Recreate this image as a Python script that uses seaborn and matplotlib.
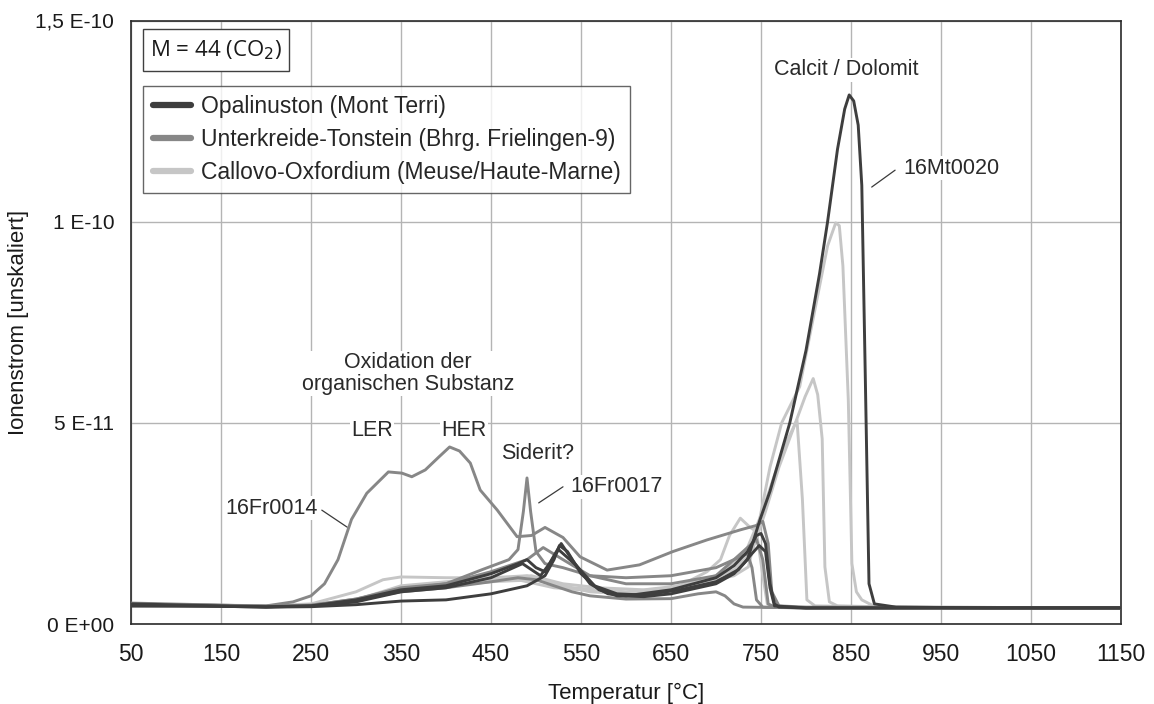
import numpy as np
import pandas as pd
import matplotlib
matplotlib.use("Agg")
import matplotlib.pyplot as plt
import seaborn as sns
from matplotlib.lines import Line2D
from matplotlib.patches import Rectangle

# ---------------- data (ion current in units of 1E-11) ----------------
group_names = ["Opalinuston (Mont Terri)",
               "Unterkreide-Tonstein (Bhrg. Frielingen-9)",
               "Callovo-Oxfordium (Meuse/Haute-Marne)"]

# Opalinuston (Mont Terri)
opa1_T = [50, 100, 150, 200, 250, 300, 350, 400, 450, 490, 510, 520, 526, 535, 550, 570, 590, 620, 650, 680,
          700, 720, 735, 749, 760, 771, 782, 800, 815, 824, 835, 843, 848, 853, 858, 862, 866, 870, 876, 900, 1000, 1150]
opa1_I = [0.45, 0.45, 0.44, 0.42, 0.43, 0.48, 0.57, 0.6, 0.75, 0.95, 1.2, 1.6, 1.95, 1.8, 1.25, 0.85, 0.7, 0.68, 0.75, 0.9,
          1.0, 1.25, 1.6, 2.6, 3.3, 4.15, 5.0, 6.8, 8.7, 10.0, 11.8, 12.8, 13.15, 13.0, 12.4, 10.9, 6.0, 1.0, 0.5, 0.42, 0.40, 0.40]
opa2_T = [50, 150, 200, 250, 300, 350, 400, 450, 480, 490, 500, 510, 520, 528, 540, 560, 580, 600, 650, 700,
          720, 735, 745, 750, 755, 760, 765, 770, 800, 1150]
opa2_I = [0.5, 0.45, 0.43, 0.45, 0.6, 0.85, 0.95, 1.25, 1.5, 1.6, 1.4, 1.3, 1.7, 2.0, 1.6, 1.0, 0.75, 0.7, 0.85, 1.15,
          1.45, 1.8, 2.2, 2.25, 2.0, 1.0, 0.5, 0.42, 0.4, 0.4]
opa3_T = [50, 150, 200, 250, 300, 350, 400, 450, 475, 485, 495, 505, 515, 525, 545, 565, 590, 620, 660, 700,
          725, 740, 748, 755, 760, 765, 800, 1150]
opa3_I = [0.45, 0.44, 0.42, 0.45, 0.55, 0.8, 0.9, 1.15, 1.4, 1.5, 1.35, 1.2, 1.5, 1.85, 1.45, 0.95, 0.75, 0.72, 0.85, 1.05,
          1.35, 1.75, 1.95, 1.8, 0.9, 0.45, 0.4, 0.4]

# Unterkreide-Tonstein (Bhrg. Frielingen-9)
uk1_T = [50, 100, 150, 200, 230, 250, 265, 280, 295, 312, 336, 351, 362, 377, 392, 404, 415, 427, 438, 457,
         479, 495, 510, 530, 549, 579, 615, 652, 690, 727, 745, 752, 758, 762, 770, 800, 1150]
uk1_I = [0.5, 0.48, 0.46, 0.45, 0.55, 0.7, 1.0, 1.6, 2.6, 3.25, 3.78, 3.75, 3.66, 3.83, 4.15, 4.4, 4.3, 4.0, 3.33, 2.83,
         2.17, 2.2, 2.4, 2.15, 1.67, 1.34, 1.47, 1.8, 2.09, 2.34, 2.45, 2.55, 2.0, 0.8, 0.45, 0.42, 0.4]
uk2_T = [50, 150, 200, 250, 300, 350, 400, 440, 470, 480, 486, 490, 494, 500, 510, 530, 560, 600, 650, 700,
         720, 735, 740, 745, 752, 800, 1150]
uk2_I = [0.5, 0.46, 0.44, 0.47, 0.62, 0.85, 1.0, 1.35, 1.6, 1.85, 2.8, 3.63, 2.8, 1.8, 1.5, 1.4, 1.2, 1.15, 1.2, 1.4,
         1.6, 1.75, 1.4, 0.6, 0.42, 0.4, 0.4]
uk3_T = [50, 150, 200, 250, 300, 350, 400, 450, 480, 500, 520, 540, 560, 600, 650, 680, 700, 710, 720, 730, 800, 1150]
uk3_I = [0.5, 0.45, 0.43, 0.45, 0.6, 0.8, 0.9, 1.05, 1.15, 1.1, 0.95, 0.8, 0.7, 0.62, 0.63, 0.75, 0.8, 0.7, 0.5, 0.42, 0.4, 0.4]
uk4_T = [50, 150, 200, 250, 300, 350, 400, 450, 490, 508, 530, 560, 600, 650, 700, 730, 745, 752, 758, 765, 800, 1150]
uk4_I = [0.52, 0.47, 0.44, 0.46, 0.62, 0.9, 1.0, 1.3, 1.6, 1.9, 1.6, 1.2, 1.0, 1.0, 1.2, 1.8, 2.1, 1.6, 0.5, 0.42, 0.4, 0.4]

# Callovo-Oxfordium (Meuse/Haute-Marne)
co1_T = [50, 150, 200, 250, 300, 330, 350, 400, 450, 480, 500, 520, 550, 600, 650, 700, 720, 736, 749, 760,
         773, 793, 812, 824, 833, 837, 841, 847, 851, 856, 862, 875, 900, 1150]
co1_I = [0.5, 0.47, 0.45, 0.5, 0.8, 1.1, 1.17, 1.15, 1.15, 1.1, 1.0, 0.9, 0.85, 0.75, 0.85, 1.1, 1.2, 1.42, 2.66, 3.9,
         5.0, 5.9, 8.05, 9.4, 9.97, 9.9, 8.9, 5.57, 1.5, 0.8, 0.6, 0.45, 0.42, 0.4]
co2_T = [50, 150, 200, 250, 300, 350, 400, 450, 490, 520, 560, 600, 650, 700, 720, 740, 755, 770, 785, 799,
         808, 813, 818, 821, 826, 835, 900, 1150]
co2_I = [0.5, 0.46, 0.44, 0.46, 0.6, 0.95, 1.05, 1.15, 1.2, 1.0, 0.8, 0.75, 0.9, 1.15, 1.35, 1.8, 2.8, 3.9, 4.8, 5.65,
         6.1, 5.7, 4.6, 1.42, 0.55, 0.45, 0.42, 0.4]
co3_T = [50, 150, 200, 250, 300, 350, 400, 450, 500, 540, 600, 650, 700, 720, 735, 750, 765, 780, 790, 796, 801, 810, 900, 1150]
co3_I = [0.48, 0.45, 0.43, 0.45, 0.6, 0.9, 0.95, 1.05, 1.1, 0.9, 0.8, 0.9, 1.2, 1.5, 1.9, 2.7, 3.7, 4.6, 5.07, 3.1, 0.6, 0.45, 0.42, 0.4]
co4_T = [50, 150, 200, 250, 300, 350, 400, 450, 495, 530, 570, 620, 660, 690, 705, 715, 727, 738, 745, 752, 757, 765, 800, 1150]
co4_I = [0.5, 0.45, 0.43, 0.45, 0.55, 0.85, 0.95, 1.1, 1.2, 1.0, 0.9, 0.85, 0.95, 1.3, 1.6, 2.2, 2.63, 2.4, 2.3, 1.2, 0.5, 0.42, 0.4, 0.4]

x_ticks = list(range(50, 1151, 100))
y_ticks = [0, 5, 10, 15]
y_tick_labels = ["0 E+00", "5 E-11", "1 E-10", "1,5 E-10"]

# ---------------- build long table ----------------
curves = [
    ("16Mt0020", group_names[0], opa1_T, opa1_I),
    ("Mt-b", group_names[0], opa2_T, opa2_I),
    ("Mt-c", group_names[0], opa3_T, opa3_I),
    ("16Fr0014", group_names[1], uk1_T, uk1_I),
    ("16Fr0017", group_names[1], uk2_T, uk2_I),
    ("Fr-c", group_names[1], uk3_T, uk3_I),
    ("Fr-d", group_names[1], uk4_T, uk4_I),
    ("CO-a", group_names[2], co1_T, co1_I),
    ("CO-b", group_names[2], co2_T, co2_I),
    ("CO-c", group_names[2], co3_T, co3_I),
    ("CO-d", group_names[2], co4_T, co4_I),
]
rows = []
for sample, grp, Ts, Is in curves:
    for t, v in zip(Ts, Is):
        rows.append((sample, grp, t, v))
df = pd.DataFrame(rows, columns=["sample", "group", "T", "I"])

colors = {group_names[0]: "#3e3e3e", group_names[1]: "#878787", group_names[2]: "#c6c6c6"}

sns.set_style("white")
plt.rcParams["font.family"] = ["Liberation Sans", "DejaVu Sans"]

fig = plt.figure(figsize=(11.54, 7.04), dpi=100)
ax = fig.add_axes([131 / 1154, 1 - 624 / 704, 990 / 1154, 603.5 / 704])

for grp in [group_names[2], group_names[1], group_names[0]]:
    sub = df[df["group"] == grp]
    sns.lineplot(data=sub, x="T", y="I", units="sample", estimator=None, sort=False,
                 color=colors[grp], linewidth=2.1, ax=ax, legend=False, zorder=3,
                 solid_joinstyle="round", solid_capstyle="round")

ax.set_xlim(50, 1150)
ax.set_ylim(0, 15)
ax.set_xticks(x_ticks)
ax.set_yticks(y_ticks)
ax.set_yticklabels(y_tick_labels)
ax.grid(True, color="#b4b4b4", linewidth=1.0, zorder=0)
ax.set_axisbelow(True)
for s in ax.spines.values():
    s.set_color("#2a2a2a")
    s.set_linewidth(1.2)
ax.tick_params(axis="both", which="major", direction="out", length=6, width=1,
               color="#808080", labelcolor="#1a1a1a")
ax.tick_params(axis="x", pad=8, labelsize=16.5)
ax.tick_params(axis="y", pad=6, labelsize=15)
ax.set_xlabel("Temperatur [°C]", fontsize=16, color="#1a1a1a", labelpad=12)
ax.set_ylabel("Ionenstrom [unskaliert]", fontsize=16, color="#1a1a1a", labelpad=5)

# legend
handles = [Line2D([0], [0], color=colors[g], linewidth=4.5, solid_capstyle="round") for g in group_names]
leg = ax.legend(handles, group_names, loc="upper left", bbox_to_anchor=(0.012, 0.892),
                borderaxespad=0, fontsize=16.5, frameon=True, fancybox=False,
                handlelength=1.7, handletextpad=0.4, labelspacing=0.42, borderpad=0.42)
leg.get_frame().set_edgecolor("#404040")
leg.get_frame().set_linewidth(1.0)

# M = 44 box
ax.add_patch(Rectangle((0.0121, 0.9166), 0.1475, 0.0696, transform=ax.transAxes,
                       facecolor="white", edgecolor="#404040", linewidth=1.0, zorder=5))
ax.text(0.0859, 0.951, "M = 44 (CO$_2$)", transform=ax.transAxes, ha="center", va="center",
        fontsize=16, family=["Open Sans", "DejaVu Sans"], color="#1a1a1a", zorder=6)

# annotations
wbox = dict(facecolor="white", edgecolor="none", pad=1.0)
tc = "#2a2a2a"
ax.text(845, 13.77, "Calcit / Dolomit", ha="center", va="center", fontsize=15.5, color=tc, bbox=wbox, zorder=4)
ax.text(908, 11.33, "16Mt0020", ha="left", va="center", fontsize=15.5, color=tc, bbox=wbox, zorder=4)
ax.plot([873, 899], [10.86, 11.28], color="#3a3a3a", linewidth=0.9, zorder=4)
ax.text(358, 6.22, "Oxidation der\norganischen Substanz", ha="center", va="center", fontsize=15.5,
        color=tc, linespacing=1.05, bbox=wbox, zorder=4)
ax.text(318, 4.82, "LER", ha="center", va="center", fontsize=15.5, color=tc, bbox=wbox, zorder=4)
ax.text(420, 4.82, "HER", ha="center", va="center", fontsize=15.5, color=tc, bbox=wbox, zorder=4)
ax.text(502, 4.25, "Siderit?", ha="center", va="center", fontsize=15.5, color=tc, bbox=wbox, zorder=4)
ax.text(538, 3.41, "16Fr0017", ha="left", va="center", fontsize=15.5, color=tc, bbox=wbox, zorder=4)
ax.plot([503, 530], [3.01, 3.41], color="#3a3a3a", linewidth=0.9, zorder=4)
ax.text(257, 2.88, "16Fr0014", ha="right", va="center", fontsize=15.5, color=tc, bbox=wbox, zorder=4)
ax.plot([262, 290], [2.83, 2.41], color="#3a3a3a", linewidth=0.9, zorder=4)

fig.savefig("out.png", dpi=100)
